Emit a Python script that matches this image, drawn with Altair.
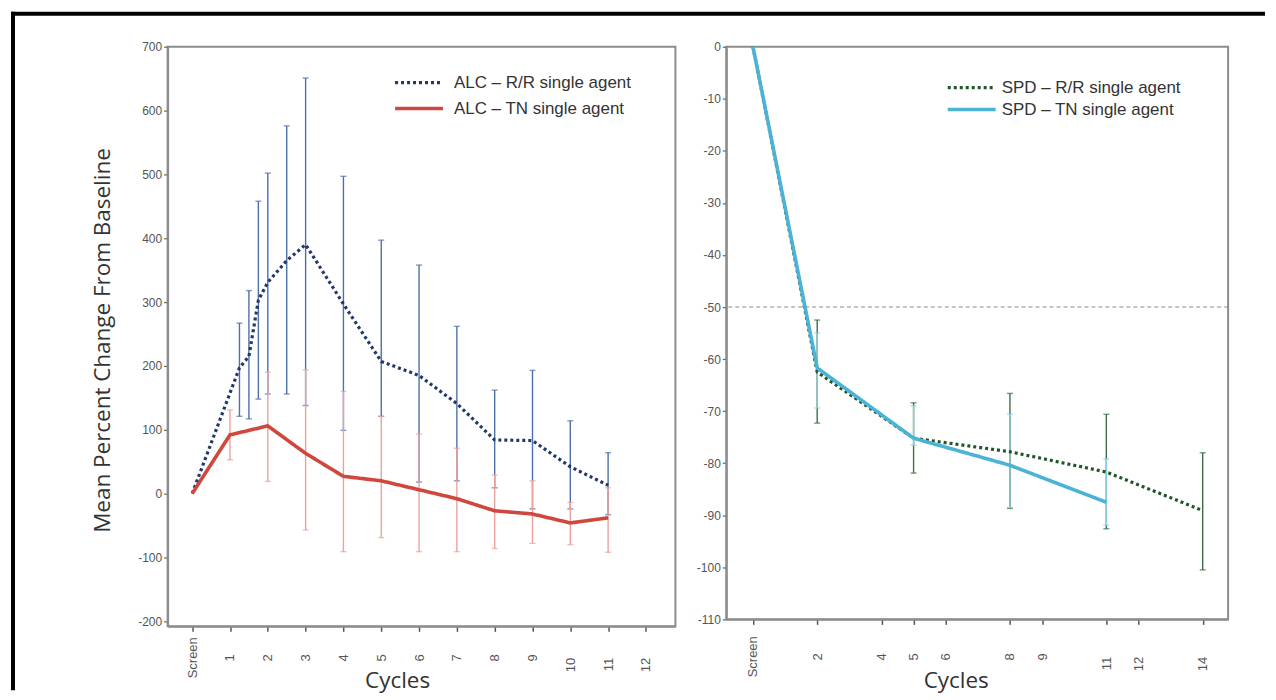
import altair as alt
import pandas as pd

# ---------------- data ----------------
# Left panel: ALC
left_tick_values = [0, 1, 2, 3, 4, 5, 6, 7, 8, 9, 10, 11, 12]
alc_rr_label = "ALC \u2013 R/R single agent"
alc_tn_label = "ALC \u2013 TN single agent"
alc_rr_cycle = [0, 1.25, 1.5, 1.75, 2, 2.5, 3, 4, 5, 6, 7, 8, 9, 10, 11]
alc_rr_mean = [0, 197, 215, 303, 331, 365, 390, 297, 207, 185, 141, 84, 83, 42, 13]
alc_rr_hi = [None, 267, 318, 458, 502, 576, 651, 497, 397, 358, 262, 162, 193, 114, 64]
alc_rr_lo = [None, 121, 117, 148, 156, 156, 138, 99, 121, 18, 20, 9, -24, -24, -33]
alc_tn_cycle = [0, 1, 2, 3, 4, 5, 6, 7, 8, 9, 10, 11]
alc_tn_mean = [0, 92, 106, 63, 27, 20, 6, -8, -27, -32, -46, -38]
alc_tn_hi = [None, 131, 190, 194, 160, 121, 93, 71, 29, 20, -14, 9]
alc_tn_lo = [None, 53, 19, -57, -91, -69, -91, -91, -86, -78, -80, -92]

# Right panel: SPD
right_tick_values = [0, 2, 4, 5, 6, 8, 9, 11, 12, 14]
spd_rr_label = "SPD \u2013 R/R single agent"
spd_tn_label = "SPD \u2013 TN single agent"
spd_rr_cycle = [0, 2, 5, 8, 11, 14]
spd_rr_mean = [0, -62.5, -75.2, -77.8, -81.7, -89.1]
spd_rr_hi = [None, -52.5, -68.4, -66.6, -70.6, -78.0]
spd_rr_lo = [None, -72.3, -81.9, -88.7, -92.6, -100.5]
spd_tn_cycle = [0, 2, 5, 8, 11]
spd_tn_mean = [0, -61.7, -75.2, -80.4, -87.5]
spd_tn_hi = [None, -55.0, -69.0, -70.6, -79.2]
spd_tn_lo = [None, -69.4, -76.5, -88.5, -91.9]
spd_threshold = [-50]

# ---------------- styling ----------------
NAVY = "#22386a"
NAVY_BAR = "#4d70aa"
RED = "#d0473d"
RED_BAR = "#eaa29e"
GREEN = "#23552a"
GREEN_BAR = "#3f6e42"
CYAN = "#4ab3d6"
CYAN_BAR = "#88cfe2"
FRAME = "#8c8c8c"
LABEL = "#555555"
TITLE = "#333333"
FONT = "Liberation Sans"
TFONT = "Open Sans"


def series_frames(cycle, mean, lo, hi, name):
    lines = pd.DataFrame({"cycle": cycle, "value": mean, "series": name})
    bars = pd.DataFrame({"cycle": cycle, "lo": lo, "hi": hi, "series": name}).dropna()
    caps = pd.concat([
        pd.DataFrame({"cycle": bars["cycle"], "cap": bars["lo"]}),
        pd.DataFrame({"cycle": bars["cycle"], "cap": bars["hi"]}),
    ])
    return lines, bars, caps


def panel(x_scale, y_scale, x_axis, y_axis, s1, s2, legend, width, height, extra=None):
    (l1, b1, c1, col1, bcol1, name1) = s1
    (l2, b2, c2, col2, bcol2, name2) = s2
    x = alt.X("cycle:Q", scale=x_scale, axis=x_axis)
    layers = []
    for b, c, bc in ((b1, c1, bcol1), (b2, c2, bcol2)):
        layers.append(alt.Chart(b).mark_rule(color=bc, strokeWidth=1.4).encode(
            x=x, y=alt.Y("lo:Q", scale=y_scale, axis=y_axis), y2="hi:Q"))
        layers.append(alt.Chart(c).mark_tick(color=bc, orient="horizontal", size=6, thickness=1.4).encode(
            x=x, y=alt.Y("cap:Q", scale=y_scale, axis=y_axis)))
    if extra is not None:
        layers.append(extra)
    lines = pd.concat([l1, l2])
    layers.append(alt.Chart(lines).mark_line(strokeCap="butt").encode(
        x=x,
        y=alt.Y("value:Q", scale=y_scale, axis=y_axis),
        color=alt.Color("series:N", scale=alt.Scale(domain=[name1, name2], range=[col1, col2]), legend=legend),
        strokeDash=alt.StrokeDash("series:N", scale=alt.Scale(domain=[name1, name2], range=[[3, 3], [1, 0]]), legend=legend),
        strokeWidth=alt.StrokeWidth("series:N", scale=alt.Scale(domain=[name1, name2], range=[3.2, 3.6]), legend=None),
        order=alt.Order("series:N"),
    ))
    return alt.layer(*layers).properties(width=width, height=height)


# ---------------- left panel ----------------
W_L, H_L = 509, 581
W_R, H_R = 503, 574

l_rr = series_frames(alc_rr_cycle, alc_rr_mean, alc_rr_lo, alc_rr_hi, alc_rr_label)
l_tn = series_frames(alc_tn_cycle, alc_tn_mean, alc_tn_lo, alc_tn_hi, alc_tn_label)

x_axis_common = dict(
    labelAngle=270, labelBaseline="middle",
    labelAlign={"condition": {"test": "datum.value >= 10", "value": "right"}, "value": "center"},
    labelFont=FONT, labelFontSize=13, labelColor=LABEL,
    tickSize=5, tickWidth=1.5, tickColor="#555555",
    domainColor=FRAME, domainWidth=2, grid=False,
    title="Cycles", titleFont=TFONT, titleFontSize=22.5, titleFontWeight="normal", titleColor=TITLE,
    titleAlign="center", titleBaseline="middle", titleX=230,
    labelExpr="datum.value == 0 ? 'Screen' : '' + datum.value",
)

left_x_axis = alt.Axis(values=left_tick_values, labelPadding=26, titleY=54, **x_axis_common)
left_y_axis = alt.Axis(
    values=[-200, -100, 0, 100, 200, 300, 400, 500, 600, 700],
    labelExpr="'' + datum.value", labelFont=FONT, labelFontSize=12, labelColor=LABEL,
    tickSize=4, tickWidth=1.2, tickColor="#666666", labelPadding=2,
    domainColor=FRAME, domainWidth=2, grid=False,
    title="Mean Percent Change From Baseline", titleFont=TFONT, titleFontSize=22.5,
    titleFontWeight="normal", titleColor=TITLE, titleAngle=270, titleAlign="center",
    titleBaseline="middle", titleX=-65, titleY=294,
)

legend_common = dict(
    title=None, orient="none", symbolType="stroke", symbolSize=2304, symbolStrokeWidth=3,
    labelFont=FONT, labelFontSize=17, labelColor=TITLE, padding=0, labelLimit=400,
    clipHeight=20,
)

left_legend = alt.Legend(legendX=226, legendY=26, labelOffset=9, rowPadding=6, **legend_common)

left_frame_df = pd.DataFrame({"k": [0]})
left_border = alt.Chart(left_frame_df).mark_rule(color="black", strokeWidth=4, strokeCap="butt").encode(
    x=alt.value(-155), y=alt.value(-35), y2=alt.value(645))
top_border = alt.Chart(left_frame_df).mark_rule(color="black", strokeWidth=4, strokeCap="butt").encode(
    x=alt.value(-157), x2=alt.value(1100), y=alt.value(-33))

left = panel(
    alt.Scale(domain=[-0.65, 12.78], nice=False, zero=False),
    alt.Scale(domain=[-208, 700], nice=False, zero=False),
    left_x_axis, left_y_axis,
    (*l_rr, NAVY, NAVY_BAR, alc_rr_label),
    (*l_tn, RED, RED_BAR, alc_tn_label),
    left_legend, W_L, H_L,
)
left = alt.layer(left, left_border, top_border)

# ---------------- right panel ----------------
r_rr = series_frames(spd_rr_cycle, spd_rr_mean, spd_rr_lo, spd_rr_hi, spd_rr_label)
r_tn = series_frames(spd_tn_cycle, spd_tn_mean, spd_tn_lo, spd_tn_hi, spd_tn_label)

right_x_axis = alt.Axis(values=right_tick_values, labelPadding=32, titleY=61, **x_axis_common)
right_y_axis = alt.Axis(
    values=[-110, -100, -90, -80, -70, -60, -50, -40, -30, -20, -10, 0],
    labelExpr="'' + datum.value", labelFont=FONT, labelFontSize=12, labelColor=LABEL,
    tickSize=4, tickWidth=1.2, tickColor="#666666", labelPadding=2,
    domainColor=FRAME, domainWidth=2, grid=False, title=None,
)
right_y_scale = alt.Scale(domain=[-110, 0], nice=False, zero=False)
threshold = alt.Chart(pd.DataFrame({"y": spd_threshold})).mark_rule(
    color="#8a8a8a", strokeWidth=1, strokeDash=[4, 3]).encode(
    y=alt.Y("y:Q", scale=right_y_scale, axis=right_y_axis))

right_legend = alt.Legend(legendX=220, legendY=31, labelOffset=4, rowPadding=2, **legend_common)

right = panel(
    alt.Scale(domain=[-0.83, 14.79], nice=False, zero=False),
    right_y_scale,
    right_x_axis, right_y_axis,
    (*r_rr, GREEN, GREEN_BAR, spd_rr_label),
    (*r_tn, CYAN, CYAN_BAR, spd_tn_label),
    right_legend, W_R, H_R, extra=threshold,
)

chart = alt.hconcat(left, right, spacing=51, bounds="flush").resolve_scale(
    color="independent", strokeDash="independent", strokeWidth="independent",
    x="independent", y="independent",
).resolve_legend(color="independent", strokeDash="independent").properties(
    padding=0, background="white"
).configure_view(stroke=FRAME, strokeWidth=2)

chart.save("out.html", embed_options={"renderer": "svg", "actions": False})
